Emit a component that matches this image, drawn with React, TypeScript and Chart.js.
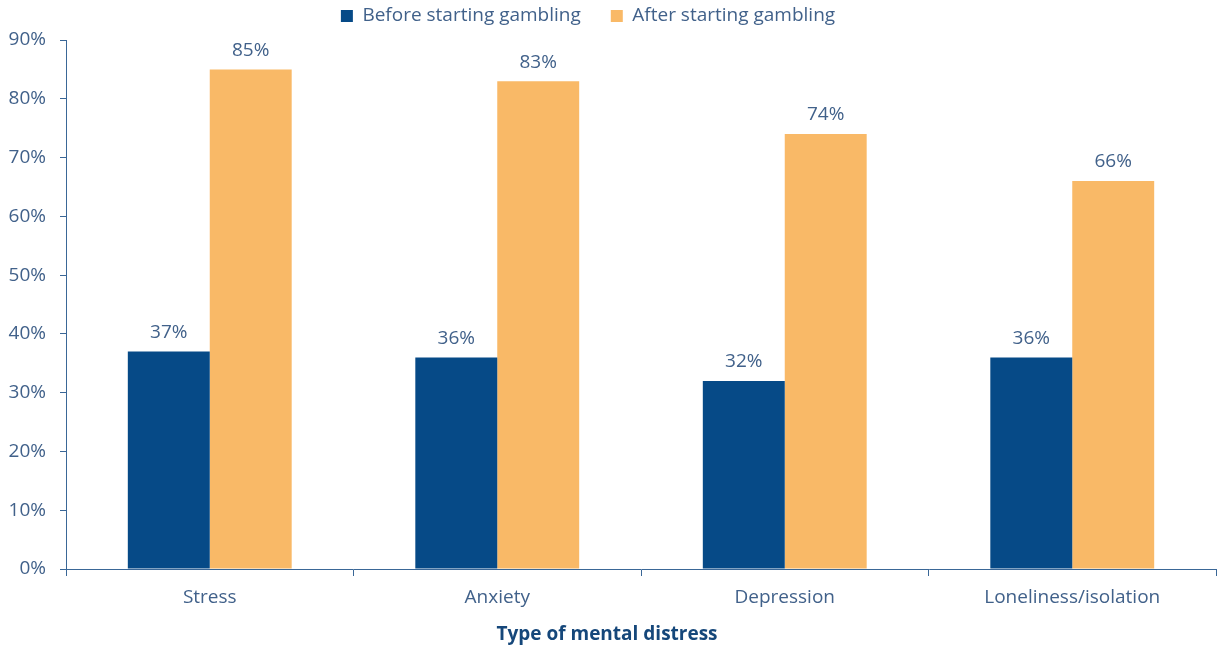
import React, { useEffect, useRef } from "react";
import { Chart, registerables } from "chart.js";

Chart.register(...registerables);

const categories = ["Stress", "Anxiety", "Depression", "Loneliness/isolation"];
const seriesNames = ["Before starting gambling", "After starting gambling"];
const beforeValues = [37, 36, 32, 36];
const afterValues = [85, 83, 74, 66];
const yMin = 0;
const yMax = 90;
const yStep = 10;
const xTitle = "Type of mental distress";

const BLUE = "#064a87";
const ORANGE = "#f9b967";
const TEXT = "#41618a";
const AXIS = "#3a6797";
const TITLE = "#15477a";
const FONT = "'Open Sans', 'Noto Sans', sans-serif";

const W = 1219;
const H = 649;

const legendFitPlugin = {
  id: "legendFit",
  beforeLayout(chart: any) {
    const lg = chart.legend;
    if (lg && !lg._patched) {
      const orig = lg.fit;
      lg.fit = function () {
        orig.call(this);
        this.height = 63.5;
      };
      lg._patched = true;
    }
  },
  afterLayout(chart: any) {
    const lg = chart.legend;
    if (lg) {
      lg.left -= 20;
      lg.right -= 20;
    }
  },
};

const valueLabelPlugin = {
  id: "valueLabels",
  afterDatasetsDraw(chart: any) {
    const ctx = chart.ctx;
    ctx.save();
    ctx.font = `19px ${FONT}`;
    ctx.fillStyle = TEXT;
    ctx.textAlign = "center";
    ctx.textBaseline = "middle";
    chart.data.datasets.forEach((ds: any, di: number) => {
      const meta = chart.getDatasetMeta(di);
      meta.data.forEach((el: any, i: number) => {
        ctx.fillText(`${ds.data[i]}%`, el.x, el.y - 19);
      });
    });
    ctx.restore();
  },
};

const axisTitlePlugin = {
  id: "axisTitle",
  afterDraw(chart: any) {
    const ctx = chart.ctx;
    const area = chart.chartArea;
    ctx.save();
    ctx.font = `bold 19px ${FONT}`;
    ctx.fillStyle = TITLE;
    ctx.textAlign = "center";
    ctx.textBaseline = "middle";
    ctx.fillText(xTitle, (area.left + area.right) / 2 - 34, 635);
    ctx.restore();
  },
};

export default function App() {
  const ref = useRef<HTMLCanvasElement>(null);
  useEffect(() => {
    if (!ref.current) return;
    const chart = new Chart(ref.current, {
      type: "bar",
      data: {
        labels: categories,
        datasets: [
          {
            label: seriesNames[0],
            data: beforeValues,
            backgroundColor: BLUE,
            categoryPercentage: 0.57,
            barPercentage: 1.0,
          },
          {
            label: seriesNames[1],
            data: afterValues,
            backgroundColor: ORANGE,
            categoryPercentage: 0.57,
            barPercentage: 1.0,
          },
        ],
      },
      options: {
        responsive: false,
        animation: false,
        layout: { padding: { top: -23.5, left: 0, right: 3, bottom: 0 } },
        plugins: {
          legend: {
            position: "top",
            labels: {
              boxWidth: 12,
              boxHeight: 12,
              padding: 30,
              color: TEXT,
              font: { family: FONT, size: 19 },
            },
          },
          tooltip: { enabled: false },
        },
        scales: {
          x: {
            grid: {
              drawOnChartArea: false,
              tickLength: 7,
              color: AXIS,
              offset: true,
            },
            border: { color: AXIS, width: 1 },
            ticks: {
              color: TEXT,
              padding: 10,
              font: { family: FONT, size: 19 },
              maxRotation: 0,
            },
            title: { display: false },
            afterFit(scale: any) {
              scale.height = 80;
            },
          },
          y: {
            min: yMin,
            max: yMax,
            grid: {
              drawOnChartArea: false,
              tickLength: 6,
              color: AXIS,
            },
            border: { color: AXIS, width: 1 },
            ticks: {
              stepSize: yStep,
              color: TEXT,
              padding: 14,
              font: { family: FONT, size: 19 },
              callback: (v: any) => `${v}%`,
            },
            afterFit(scale: any) {
              scale.width = 66;
            },
          },
        },
      },
      plugins: [legendFitPlugin, valueLabelPlugin, axisTitlePlugin],
    });
    return () => chart.destroy();
  }, []);
  return (
    <div style={{ position: "absolute", left: 0, top: 0, width: W, height: H, background: "#fff" }}>
      <canvas ref={ref} width={W} height={H} style={{ display: "block" }} />
    </div>
  );
}
